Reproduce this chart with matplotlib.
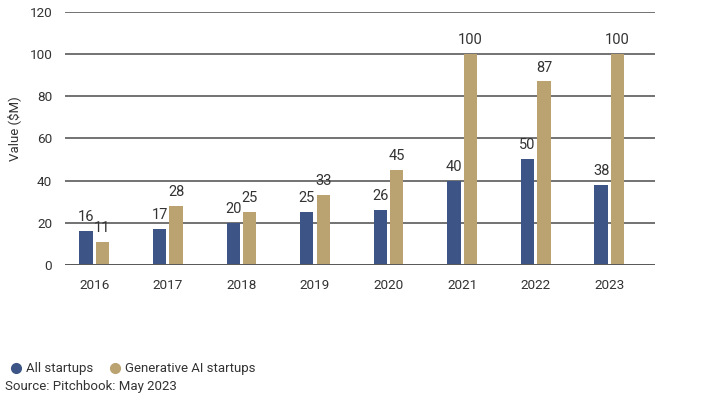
import numpy as np
import matplotlib.pyplot as plt
from matplotlib.lines import Line2D

years = ["2016", "2017", "2018", "2019", "2020", "2021", "2022", "2023"]
all_startups = [16, 17, 20, 25, 26, 40, 50, 38]
genai_startups = [11, 28, 25, 33, 45, 100, 87, 100]
yticks = [0, 20, 40, 60, 80, 100, 120]

BLUE = "#3d5586"
GOLD = "#bba371"
GRID = "#5a5a5a"
TEXT = "#333333"

plt.rcParams["font.family"] = ["Roboto", "DejaVu Sans"]

fig = plt.figure(figsize=(7.05, 3.97), dpi=100)
ax = fig.add_axes([0.092, 0.333, 0.837, 0.637])

x = np.arange(len(years))
w = 0.18
off = 0.112

ax.set_axisbelow(True)
ax.yaxis.grid(True, color=GRID, linewidth=1.2)
b1 = ax.bar(x - off, all_startups, width=w, color=BLUE, zorder=2)
b2 = ax.bar(x + off, genai_startups, width=w, color=GOLD, zorder=2)
ax.axhline(0, color=GRID, linewidth=1.4, zorder=3)

for bars, vals in ((b1, all_startups), (b2, genai_startups)):
    for rect, v in zip(bars, vals):
        ax.annotate(str(v), (rect.get_x() + rect.get_width() / 2, v),
                    xytext=(0, 5), textcoords="offset points",
                    ha="center", va="bottom", fontsize=10.5, color=TEXT)

# bars sit a little left of centre in the original
ax.set_xlim(-0.40, 7.62)
ax.set_ylim(0, 120)
ax.set_yticks(yticks)
ax.set_xticks(x)
ax.set_xticklabels(years)
ax.tick_params(axis="both", length=0, labelsize=9.7, colors=TEXT)
ax.tick_params(axis="y", pad=9)
ax.tick_params(axis="x", pad=10)
for s in ax.spines.values():
    s.set_visible(False)
ax.set_ylabel("Value ($M)", fontsize=9.5, color=TEXT)
ax.yaxis.set_label_coords(-0.0746, 0.54)

handles = [
    Line2D([], [], marker="o", linestyle="", markersize=7, color=BLUE),
    Line2D([], [], marker="o", linestyle="", markersize=7, color=GOLD),
]
fig.legend(handles, ["All startups", "Generative AI startups"],
           loc="lower left", bbox_to_anchor=(-0.003, 0.025), ncol=2, frameon=False,
           fontsize=9.5, handletextpad=0.2, columnspacing=1.2, handlelength=1.0,
           labelcolor=TEXT)
fig.text(0.007, 0.01, "Source: Pitchbook: May 2023", fontsize=9.5, color=TEXT,
         va="bottom")

fig.savefig("out.png", dpi=100)
